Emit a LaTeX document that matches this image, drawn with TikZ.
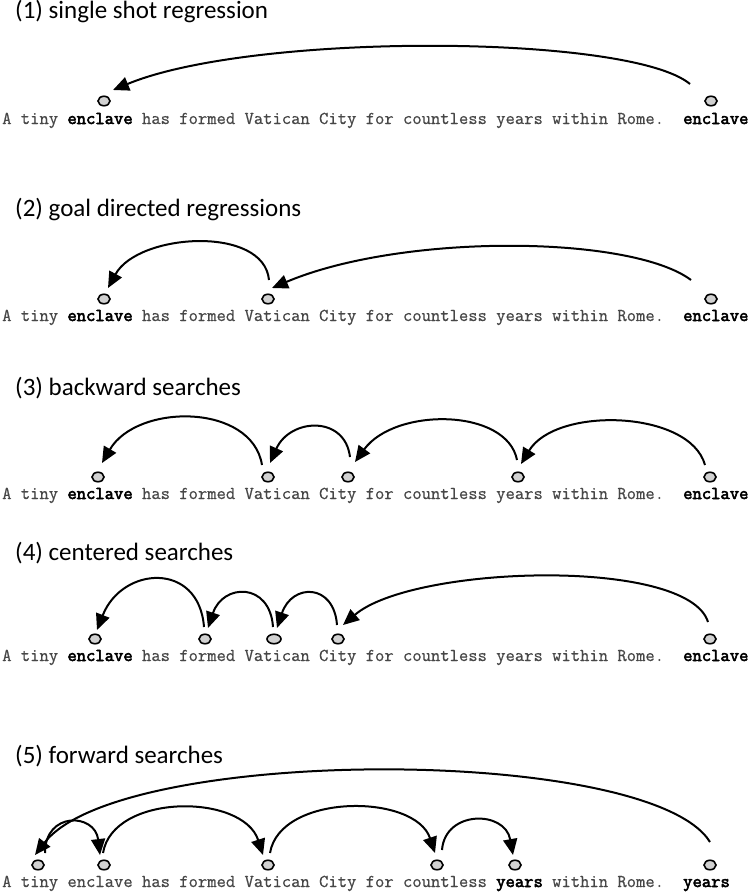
\documentclass[tikz,border=0pt]{standalone}
\usepackage{fontspec}
\setmainfont{Carlito}
\newfontfamily\sentfont{Latin Modern Mono}[FakeBold=0.6]
\newfontfamily\sentboldfont{Latin Modern Mono}[FakeBold=3]
\usetikzlibrary{arrows.meta,shapes.geometric}
\newcommand{\kw}[1]{{\sentboldfont\color{black}#1}}

\begin{document}
\begin{tikzpicture}[x=1pt,y=-1pt,
  heading/.style={anchor=base west, inner sep=0, font=\fontsize{25}{30}\selectfont},
  sentence/.style={anchor=base west, inner sep=0, text=black!72, font=\sentfont\fontsize{18.1}{20}\selectfont},
  target/.style={anchor=base west, inner sep=0, font=\sentboldfont\fontsize{18.1}{20}\selectfont},
  fix/.style={ellipse, draw=black, line width=1.6pt, fill=black!18, minimum width=12pt, minimum height=9.5pt, inner sep=0},
  jump/.style={line width=2pt, -{Triangle[length=16pt,width=14pt]}},
]
\useasboundingbox (0,0) rectangle (749,892);

% (1) single shot regression
\node[heading] (t1) at (15,18) {(1) single shot regression};
\node[sentence] (s1) at (2,124) {A tiny \kw{enclave} has formed Vatican City for countless years within Rome.};
\node[target] (w1) at (683,124) {enclave};
\node[fix] (f1a) at (104,101) {};
\node[fix] (f1z) at (711,101) {};
\draw[jump] ([shift={(-21,-17)}]f1z.center) .. controls +(-60,-50) and +(140,-58) .. ([shift={(9,-11)}]f1a.center);

% (2) goal directed regressions
\node[heading] (t2) at (15,216) {(2) goal directed regressions};
\node[sentence] (s2) at (2,321) {A tiny \kw{enclave} has formed Vatican City for countless years within Rome.};
\node[target] (w2) at (683,321) {enclave};
\node[fix] (f2a) at (104,299) {};
\node[fix] (f2v) at (268,299) {};
\node[fix] (f2z) at (711,299) {};
\draw[jump] ([shift={(-20,-19)}]f2z.center) .. controls +(-60,-45) and +(130,-55) .. ([shift={(4,-11)}]f2v.center);
\draw[jump] ([shift={(1,-19)}]f2v.center) .. controls +(-5,-55) and +(30,-55) .. ([shift={(4,-11)}]f2a.center);

% (3) backward searches
\node[heading] (t3) at (15,395) {(3) backward searches};
\node[sentence] (s3) at (2,499) {A tiny \kw{enclave} has formed Vatican City for countless years within Rome.};
\node[target] (w3) at (683,499) {enclave};
\node[fix] (f3a) at (98,477) {};
\node[fix] (f3v) at (268,477) {};
\node[fix] (f3c) at (348,477) {};
\node[fix] (f3y) at (518,477) {};
\node[fix] (f3z) at (710,477) {};
\draw[jump] ([shift={(-5,-12)}]f3z.center) .. controls +(-15,-55) and +(35,-58) .. ([shift={(3,-13)}]f3y.center);
\draw[jump] ([shift={(-1,-17)}]f3y.center) .. controls +(-10,-52) and +(40,-55) .. ([shift={(7,-15)}]f3c.center);
\draw[jump] ([shift={(2,-20)}]f3c.center) .. controls +(-5,-42) and +(20,-45) .. ([shift={(2,-14)}]f3v.center);
\draw[jump] ([shift={(-6,-12)}]f3v.center) .. controls +(-10,-62) and +(35,-60) .. ([shift={(4,-14)}]f3a.center);

% (4) centered searches
\node[heading] (t4) at (15,560) {(4) centered searches};
\node[sentence] (s4) at (2,661) {A tiny \kw{enclave} has formed Vatican City for countless years within Rome.};
\node[target] (w4) at (683,661) {enclave};
\node[fix] (f4a) at (95,639) {};
\node[fix] (f4f) at (205,639) {};
\node[fix, minimum width=14pt] (f4v) at (274,639) {};
\node[fix] (f4c) at (338,639) {};
\node[fix] (f4z) at (710,639) {};
\draw[jump] ([shift={(-2,-17)}]f4z.center) .. controls +(-20,-65) and +(70,-60) .. ([shift={(5,-14)}]f4c.center);
\draw[jump] ([shift={(-1,-14)}]f4c.center) .. controls +(-3,-42) and +(15,-45) .. ([shift={(3,-11)}]f4v.center);
\draw[jump] ([shift={(-1,-12)}]f4v.center) .. controls +(-3,-45) and +(15,-45) .. ([shift={(3,-11)}]f4f.center);
\draw[jump] ([shift={(-1,-12)}]f4f.center) .. controls +(-5,-66) and +(25,-64) .. ([shift={(2,-9)}]f4a.center);

% (5) forward searches
\node[heading] (t5) at (15,763) {(5) forward searches};
\node[sentence] (s5) at (2,887) {A tiny enclave has formed Vatican City for countless \kw{years} within Rome.};
\node[target] (w5) at (683,887) {years};
\node[fix] (f5t) at (38,865) {};
\node[fix] (f5e) at (104,865) {};
\node[fix] (f5v) at (268,865) {};
\node[fix] (f5n) at (437,865) {};
\node[fix] (f5y) at (515,865) {};
\node[fix] (f5z) at (710,865) {};
\draw[jump] ([shift={(0,-23)}]f5z.center) .. controls +(-60,-97) and +(85,-110) .. ([shift={(-3,-10)}]f5t.center);
\draw[jump] ([shift={(7,-12)}]f5t.center) .. controls +(0,-42) and +(-5,-42) .. ([shift={(-4,-10)}]f5e.center);
\draw[jump] ([shift={(-1,-12)}]f5e.center) .. controls +(10,-60) and +(-20,-62) .. ([shift={(-5,-10)}]f5v.center);
\draw[jump] ([shift={(2,-12)}]f5v.center) .. controls +(10,-60) and +(-20,-60) .. ([shift={(-2,-12)}]f5n.center);
\draw[jump] ([shift={(5,-15)}]f5n.center) .. controls +(3,-40) and +(-8,-45) .. ([shift={(-2,-10)}]f5y.center);
\end{tikzpicture}
\end{document}
